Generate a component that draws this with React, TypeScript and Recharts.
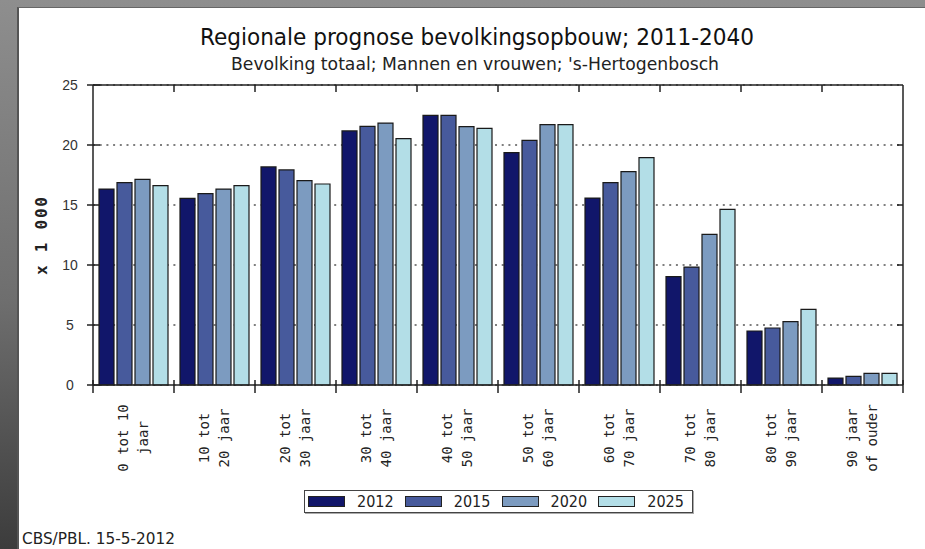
import { ComposedChart, Bar, Line, XAxis, YAxis, CartesianGrid } from 'recharts';

const CATEGORIES = [
  ['0 tot 10', 'jaar'],
  ['10 tot', '20 jaar'],
  ['20 tot', '30 jaar'],
  ['30 tot', '40 jaar'],
  ['40 tot', '50 jaar'],
  ['50 tot', '60 jaar'],
  ['60 tot', '70 jaar'],
  ['70 tot', '80 jaar'],
  ['80 tot', '90 jaar'],
  ['90 jaar', 'of ouder'],
];

// x 1 000 inwoners
const Y2012 = [16.33, 15.56, 18.17, 21.17, 22.47, 19.36, 15.58, 9.03, 4.5, 0.58];
const Y2015 = [16.86, 15.94, 17.92, 21.56, 22.47, 20.39, 16.86, 9.83, 4.75, 0.72];
const Y2020 = [17.14, 16.33, 17.03, 21.83, 21.53, 21.69, 17.78, 12.56, 5.28, 0.97];
const Y2025 = [16.61, 16.61, 16.75, 20.53, 21.39, 21.69, 18.94, 14.64, 6.31, 0.97];

const Y_TICKS = [0, 5, 10, 15, 20, 25];
const RIGHT_TICKS = [5, 10, 15, 20];

const SERIES = [
  { key: '2012', values: Y2012, color: '#11166a' },
  { key: '2015', values: Y2015, color: '#475a9c' },
  { key: '2020', values: Y2020, color: '#7c9bc0' },
  { key: '2025', values: Y2025, color: '#b3dee7' },
];

const data = CATEGORIES.map((lines, i) => {
  const row: Record<string, any> = { cat: lines.join(' ') };
  SERIES.forEach(s => { row[s.key] = s.values[i]; });
  return row;
});

const AXIS = '#222';
const LABEL_FONT = '"DejaVu Sans Condensed", "DejaVu Sans", sans-serif';

function BottomTick(props: any) {
  const { x, y, payload, index } = props;
  const half = payload.offset ?? 40.5;
  const [l1, l2] = CATEGORIES[index] ?? ['', ''];
  return (
    <g>
      <line x1={x - half} x2={x - half} y1={y - 5} y2={y + 8} stroke={AXIS} strokeWidth={1.5} />
      {index === CATEGORIES.length - 1 && (
        <line x1={x + half} x2={x + half} y1={y - 5} y2={y + 8} stroke={AXIS} strokeWidth={1.5} />
      )}
      <g transform={`translate(${x},${y + 53}) rotate(-90)`}>
        <text textAnchor="middle" y={-5.5} fontFamily="DejaVu Sans Mono" fontSize={14} fill="#222">{l1}</text>
        <text textAnchor="middle" y={14} fontFamily="DejaVu Sans Mono" fontSize={14} fill="#222">{l2}</text>
      </g>
    </g>
  );
}

function TopTick(props: any) {
  const { x, y, payload, index } = props;
  if (index === 0) return <g />;
  const half = payload.offset ?? 40.5;
  return <line x1={x - half} x2={x - half} y1={y} y2={y + 7} stroke={AXIS} strokeWidth={1.5} />;
}

function LeftTick(props: any) {
  const { x, y, payload } = props;
  return (
    <g>
      <line x1={x - 6} x2={x + 7} y1={y} y2={y} stroke={AXIS} strokeWidth={1.5} />
      <text x={x - 23} y={y} dy={5} textAnchor="middle" fontFamily="Liberation Sans" fontSize={14} fill="#333">
        {payload.value}
      </text>
    </g>
  );
}

function RightTick(props: any) {
  const { x, y } = props;
  return <line x1={x - 6} x2={x} y1={y} y2={y} stroke={AXIS} strokeWidth={1.5} />;
}

export default function App() {
  return (
    <div style={{ position: 'absolute', left: 0, top: 0, width: 925, height: 549, overflow: 'hidden',
      background: 'linear-gradient(180deg, #8e8e8e 0%, #6e6e6e 55%, #3c3c3c 100%)' }}>
      <div style={{ position: 'absolute', left: 17, top: 7, right: 0, bottom: 0, background: '#fff',
        borderLeft: '2px solid #555', borderTop: '1px solid #666' }} />

      <div style={{ position: 'absolute', left: 0, top: 0 }}>
        <ComposedChart width={925} height={549} data={data}
          margin={{ top: 84, right: 21, bottom: 64, left: 33 }}
          barCategoryGap={6} barGap={3}>
          <CartesianGrid vertical={false} stroke="#555" strokeWidth={1.5} strokeDasharray="2 4.7" />
          <XAxis dataKey="cat" interval={0} height={100} tickSize={0} tickMargin={0}
            axisLine={{ stroke: AXIS, strokeWidth: 1.5 }} tick={<BottomTick />} />
          <XAxis xAxisId="top" dataKey="cat" orientation="top" interval={0} height={1} tickSize={0} tickMargin={0}
            axisLine={{ stroke: AXIS, strokeWidth: 1.5 }} tick={<TopTick />} />
          <YAxis domain={[0, 25]} ticks={Y_TICKS} width={60} tickSize={0} tickMargin={0}
            axisLine={{ stroke: AXIS, strokeWidth: 1.5 }} tick={<LeftTick />} />
          <YAxis yAxisId="r" orientation="right" domain={[0, 25]} ticks={RIGHT_TICKS} width={1}
            tickSize={0} tickMargin={0} axisLine={{ stroke: AXIS, strokeWidth: 1.5 }} tick={<RightTick />} />
          {SERIES.map(s => (
            <Bar key={s.key} dataKey={s.key} fill={s.color} stroke="#1a1a1a" strokeWidth={1.2}
              isAnimationActive={false} />
          ))}
          {/* invisible series so the top and right frame axes get drawn */}
          <Line xAxisId="top" yAxisId="r" dataKey="2012" stroke="none" dot={false} activeDot={false}
            legendType="none" isAnimationActive={false} />
        </ComposedChart>
      </div>

      <svg width={925} height={549} style={{ position: 'absolute', left: 0, top: 0, pointerEvents: 'none' }}>
        <text x={477} y={45} textAnchor="middle" fontFamily={LABEL_FONT} fontSize={23} fill="#111"
          textLength={554} lengthAdjust="spacingAndGlyphs">
          Regionale prognose bevolkingsopbouw; 2011-2040
        </text>
        <text x={475} y={70} textAnchor="middle" fontFamily={LABEL_FONT} fontSize={17} fill="#222"
          textLength={488} lengthAdjust="spacingAndGlyphs">
          Bevolking totaal; Mannen en vrouwen; 's-Hertogenbosch
        </text>
        <text transform="translate(41,236) rotate(-90)" textAnchor="middle" y={6}
          fontFamily="DejaVu Sans Mono" fontWeight="bold" fontSize={16} fill="#222"
          textLength={78} lengthAdjust="spacing">
          x 1 000
        </text>
        <text x={22} y={544} fontFamily={LABEL_FONT} fontSize={16} fill="#222"
          textLength={153} lengthAdjust="spacingAndGlyphs">
          CBS/PBL. 15-5-2012
        </text>
      </svg>

      <div style={{ position: 'absolute', left: 304, top: 490, width: 387, height: 21, border: '1px solid #444',
        boxShadow: '1px 1px 0 #aaa', background: '#fff', display: 'flex', alignItems: 'center' }}>
        {SERIES.map(s => (
          <div key={s.key} style={{ display: 'flex', alignItems: 'center', marginLeft: 3, width: 95 }}>
            <span style={{ width: 35, height: 9, background: s.color, border: '1px solid #222', display: 'inline-block' }} />
            <span style={{ marginLeft: 12, fontFamily: LABEL_FONT, fontSize: 16, color: '#222', lineHeight: '16px' }}>
              {s.key}
            </span>
          </div>
        ))}
      </div>
    </div>
  );
}
